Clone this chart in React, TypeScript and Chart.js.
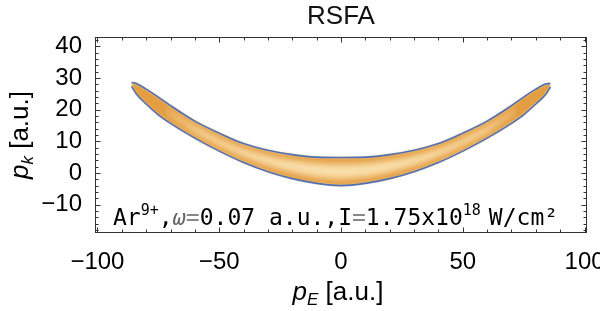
import React, { useEffect, useRef } from "react";
import { Chart, registerables } from "chart.js";

Chart.register(...registerables);

// ---- data ----
const edgeX = [-86, -84, -80, -75, -70, -60, -50, -40, -30, -20, -10, 0, 10, 20, 30, 40, 50, 60, 70, 75, 80, 84, 86];
const edgeUpper = [28.6, 28.3, 26.5, 24.0, 21.3, 16.4, 12.6, 9.3, 7.2, 5.8, 5.0, 4.9, 5.0, 5.8, 7.2, 9.3, 12.6, 16.4, 21.3, 24.0, 26.5, 28.1, 28.3];
const edgeLower = [27.4, 25.0, 21.8, 18.4, 15.7, 11.0, 6.9, 3.3, 0.4, -1.8, -3.3, -4.0, -3.3, -1.8, 0.4, 3.3, 6.9, 11.0, 15.7, 18.4, 21.8, 24.8, 27.2];

const coreX = [-72, -65, -60, -50, -40, -30, -20, -10, 0, 10, 20, 30, 40, 50, 60, 65, 72];
const coreUpper = [20.4, 16.9, 14.8, 10.9, 7.7, 5.5, 4.0, 3.1, 2.8, 3.1, 4.0, 5.5, 7.7, 10.9, 14.8, 16.9, 20.4];
const coreLower = [19.6, 15.6, 12.8, 8.7, 5.1, 2.3, 0.2, -1.3, -1.9, -1.3, 0.2, 2.3, 5.1, 8.7, 12.8, 15.6, 19.6];

const xRange = [-101, 101];
const yRange = [-19, 43];
const xTickValues = [-100, -50, 0, 50, 100];
const yTickValues = [-10, 0, 10, 20, 30, 40];
const xMinorStep = 10;
const yMinorStep = 2;

const titleText = "RSFA";

const pts = (xs: number[], ys: number[]) => xs.map((x, i) => ({ x, y: ys[i] }));
const fmt = (v: number) => (v < 0 ? "\u2212" + Math.abs(v) : String(v));

const SANS = '"Liberation Sans", Arial, sans-serif';
const MONO = '"DejaVu Sans Mono", monospace';

function drawPieces(ctx: CanvasRenderingContext2D, x: number, y: number, pieces: any[]) {
  let cx = x;
  for (const p of pieces) {
    ctx.font = p.font;
    ctx.fillStyle = p.color || "#000";
    ctx.fillText(p.t, cx, y - (p.dy || 0));
    cx += ctx.measureText(p.t).width + (p.gap || 0);
  }
  return cx - x;
}
function measurePieces(ctx: CanvasRenderingContext2D, pieces: any[]) {
  let w = 0;
  for (const p of pieces) {
    ctx.font = p.font;
    w += ctx.measureText(p.t).width + (p.gap || 0);
  }
  return w;
}

const decor = {
  id: "decor",
  beforeDatasetsDraw(chart: any) {
    chart.ctx.save();
    chart.ctx.filter = "blur(1px)";
  },
  afterDatasetDraw(chart: any, args: any) {
    // dataset draw order: 1 (band fill), 0, 3 (core fill), 2, 5, 4 (edges)
    if (args.index === 0) chart.ctx.filter = "blur(3px)";
    if (args.index === 2) chart.ctx.filter = "blur(0.4px)";
  },
  afterDatasetsDraw(chart: any) {
    chart.ctx.restore();
  },
  afterDraw(chart: any) {
    const ctx: CanvasRenderingContext2D = chart.ctx;
    const a = chart.chartArea;
    const xs = chart.scales.x;
    const ys = chart.scales.y;
    ctx.save();
    ctx.strokeStyle = "#333";
    ctx.lineWidth = 1;
    const L = Math.round(a.left) + 0.5, R = Math.round(a.right) - 0.5;
    const T = Math.round(a.top) + 0.5, B = Math.round(a.bottom) - 0.5;
    ctx.strokeRect(L, T, R - L, B - T);
    ctx.beginPath();
    for (let v = Math.ceil(xRange[0] / xMinorStep) * xMinorStep; v <= xRange[1]; v += xMinorStep) {
      const px = Math.round(xs.getPixelForValue(v)) + 0.5;
      const len = xTickValues.includes(v) ? 5 : 3;
      ctx.moveTo(px, B); ctx.lineTo(px, B - len);
      ctx.moveTo(px, T); ctx.lineTo(px, T + len);
    }
    for (let v = Math.ceil(yRange[0] / yMinorStep) * yMinorStep; v <= yRange[1]; v += yMinorStep) {
      const py = Math.round(ys.getPixelForValue(v)) + 0.5;
      const len = yTickValues.includes(v) ? 5 : 3;
      ctx.moveTo(L, py); ctx.lineTo(L + len, py);
      ctx.moveTo(R, py); ctx.lineTo(R - len, py);
    }
    ctx.stroke();

    // title
    ctx.fillStyle = "#111";
    ctx.font = "26px " + SANS;
    ctx.textAlign = "center";
    ctx.textBaseline = "alphabetic";
    ctx.fillText(titleText, (a.left + a.right) / 2, 24);

    // x axis title
    ctx.textAlign = "left";
    const xt = [
      { t: "p", font: "italic 26px " + SANS },
      { t: "E", font: "italic 17px " + SANS, dy: -5 },
      { t: " [a.u.]", font: "26px " + SANS },
    ];
    const xw = measurePieces(ctx, xt);
    drawPieces(ctx, (a.left + a.right) / 2 - xw / 2 - 3, 300, xt);

    // y axis title
    const yt = [
      { t: "p", font: "italic 26px " + SANS },
      { t: "k", font: "italic 17px " + SANS, dy: -5 },
      { t: " [a.u.]", font: "26px " + SANS },
    ];
    const yw = measurePieces(ctx, yt);
    ctx.save();
    ctx.translate(28, (a.top + a.bottom) / 2);
    ctx.rotate(-Math.PI / 2);
    drawPieces(ctx, -yw / 2, 0, yt);
    ctx.restore();

    // annotation
    const big = "23px " + MONO;
    const sup = "15px " + MONO;
    const ann = [
      { t: "Ar", font: big },
      { t: "9+", font: sup, dy: 10 },
      { t: ",", font: big },
      { t: "\u03C9", font: "italic 22px " + MONO, color: "#666" },
      { t: "=", font: big, color: "#888" },
      { t: "0.07 a.u.,I", font: big },
      { t: "=", font: big, color: "#888" },
      { t: "1.75x10", font: big },
      { t: "18", font: sup, dy: 10, gap: 8 },
      { t: "W/cm\u00B2", font: big },
    ];
    drawPieces(ctx, a.left + 18, a.bottom - 8, ann);
    ctx.restore();
  },
};

export default function App() {
  const ref = useRef<HTMLCanvasElement | null>(null);
  useEffect(() => {
    if (!ref.current) return;
    const base = { pointRadius: 0, pointHoverRadius: 0, cubicInterpolationMode: "monotone" as const };
    const edgeColor = "rgba(62,102,182,0.9)";
    const chart = new Chart(ref.current, {
      type: "line",
      data: {
        datasets: [
          { ...base, label: "bandLower", data: pts(edgeX, edgeLower), borderWidth: 0, fill: false, order: 3 },
          { ...base, label: "bandUpper", data: pts(edgeX, edgeUpper), borderWidth: 0, fill: 0, backgroundColor: "#e49e42", order: 3 },
          { ...base, label: "coreLower", data: pts(coreX, coreLower), borderWidth: 0, fill: false, order: 2 },
          { ...base, label: "coreUpper", data: pts(coreX, coreUpper), borderWidth: 0, fill: 2, backgroundColor: "#f9deaa", order: 2 },
          { ...base, label: "edgeLower", data: pts(edgeX, edgeLower), borderWidth: 1.6, borderColor: edgeColor, fill: false, order: 1 },
          { ...base, label: "edgeUpper", data: pts(edgeX, edgeUpper), borderWidth: 1.6, borderColor: edgeColor, fill: false, order: 1 },
        ],
      },
      options: {
        animation: false,
        responsive: false,
        devicePixelRatio: 1,
        layout: { padding: { left: 0, right: 13, top: 37, bottom: 0 } },
        plugins: { legend: { display: false }, tooltip: { enabled: false }, title: { display: false } },
        scales: {
          x: {
            type: "linear",
            min: xRange[0],
            max: xRange[1],
            grid: { display: false, drawTicks: false },
            border: { display: false },
            afterBuildTicks: (s: any) => { s.ticks = xTickValues.map((value) => ({ value })); },
            ticks: {
              autoSkip: false,
              maxRotation: 0,
              padding: 15,
              color: "#000",
              font: { family: SANS, size: 24 },
              callback: (v: any) => fmt(Number(v)),
            },
            afterFit: (s: any) => { s.height = 78; s.paddingLeft = 0; s.paddingRight = 0; },
          },
          y: {
            type: "linear",
            min: yRange[0],
            max: yRange[1],
            grid: { display: false, drawTicks: false },
            border: { display: false },
            afterBuildTicks: (s: any) => { s.ticks = yTickValues.map((value) => ({ value })); },
            ticks: {
              padding: 13,
              color: "#000",
              font: { family: SANS, size: 24 },
              callback: (v: any) => fmt(Number(v)),
            },
            afterFit: (s: any) => { s.width = 95; s.paddingTop = 0; s.paddingBottom = 0; },
          },
        },
      },
      plugins: [decor],
    });
    return () => chart.destroy();
  }, []);
  return (
    <div style={{ position: "absolute", left: 0, top: 0, width: 600, height: 311, background: "#fff" }}>
      <canvas ref={ref} width={600} height={311} />
    </div>
  );
}
